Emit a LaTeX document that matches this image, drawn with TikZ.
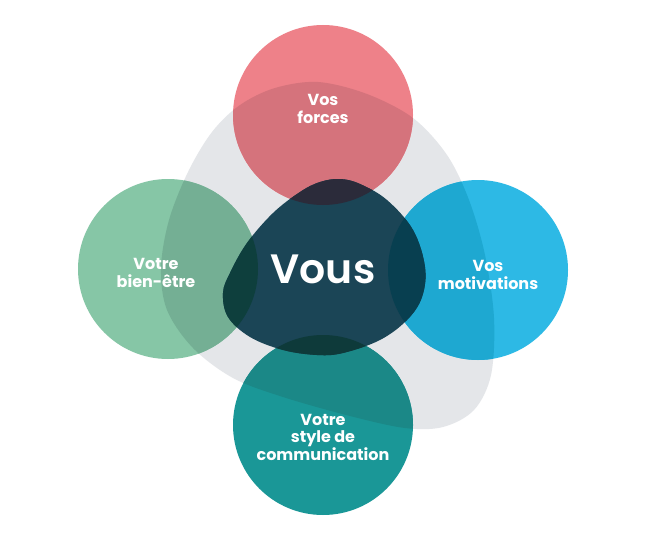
\documentclass[tikz,border=0pt]{standalone}
\usepackage{fontspec}
\setmainfont{Poppins}
\newfontfamily\vousfont{Poppins}[UprightFont=* SemiBold]
\definecolor{cgray}{HTML}{E4E6E9}
\definecolor{cred}{HTML}{EE8189}
\definecolor{credg}{HTML}{D5737C}
\definecolor{credv}{HTML}{2B2B3A}
\definecolor{cgreen}{HTML}{86C6A6}
\definecolor{cgreeng}{HTML}{74AF94}
\definecolor{cgreenv}{HTML}{0E3F3D}
\definecolor{cblue}{HTML}{2DB9E5}
\definecolor{cblueg}{HTML}{1EA8D1}
\definecolor{cbluev}{HTML}{083F50}
\definecolor{cteal}{HTML}{1A9797}
\definecolor{ctealg}{HTML}{1B8887}
\definecolor{ctealv}{HTML}{0E3A3A}
\definecolor{cvous}{HTML}{1B4556}
\tikzset{
  lbl/.style={text=white, align=center, font=\fontsize{16}{17.5}\selectfont\bfseries},
}
\def\grayblob{plot[smooth cycle, tension=0.55] coordinates {(318,82) (367,94) (413,118) (447,155) (469,200) (485,255) (494,318) (491,375) (474,410) (443,427) (405,428) (350,416) (283,397) (233,378) (193,348) (167,310) (161,268) (169,220) (188,172) (212,132) (240,105) (275,88)}}
\def\vousblob{plot[smooth cycle, tension=0.6] coordinates {(360,184) (387,200) (413,230) (425,267) (422,297) (407,320) (380,340) (343,353) (317,355) (283,350) (250,337) (228,317) (223,293) (230,273) (247,243) (273,213) (300,192) (320,182) (340,179)}}
\begin{document}
\begin{tikzpicture}[x=1pt,y=-1pt]
\useasboundingbox (0,0) rectangle (647,540);
\fill[white] (0,0) rectangle (647,540);
\coordinate (cr) at (323,115);
\coordinate (cg) at (168,269);
\coordinate (cb) at (478,270);
\coordinate (ct) at (323,425);
% gray blob
\fill[cgray] \grayblob;
% circles
\fill[cred] (cr) circle[radius=90pt];
\fill[cgreen] (cg) circle[radius=90pt];
\fill[cblue] (cb) circle[radius=90pt];
\fill[cteal] (ct) circle[radius=90pt];
% circles over gray blob
\begin{scope}
  \clip \grayblob;
  \fill[credg] (cr) circle[radius=90pt];
  \fill[cgreeng] (cg) circle[radius=90pt];
  \fill[cblueg] (cb) circle[radius=90pt];
  \fill[ctealg] (ct) circle[radius=90pt];
\end{scope}
% central blob
\fill[cvous] \vousblob;
\begin{scope}
  \clip \vousblob;
  \fill[credv] (cr) circle[radius=90pt];
  \fill[cgreenv] (cg) circle[radius=90pt];
  \fill[cbluev] (cb) circle[radius=90pt];
  \fill[ctealv] (ct) circle[radius=90pt];
\end{scope}
% labels
\node[lbl] (forces) at (323,109) {Vos\\forces};
\node[lbl] (bien) at (156,273) {Votre\\bien-être};
\node[lbl] (motiv) at (488,275) {Vos\\motivations};
\node[lbl] (comm) at (323,437) {Votre\\style de\\communication};
\node[text=white, font=\fontsize{41}{41}\vousfont] (vous) at (323,269) {Vous};
\end{tikzpicture}
\end{document}
